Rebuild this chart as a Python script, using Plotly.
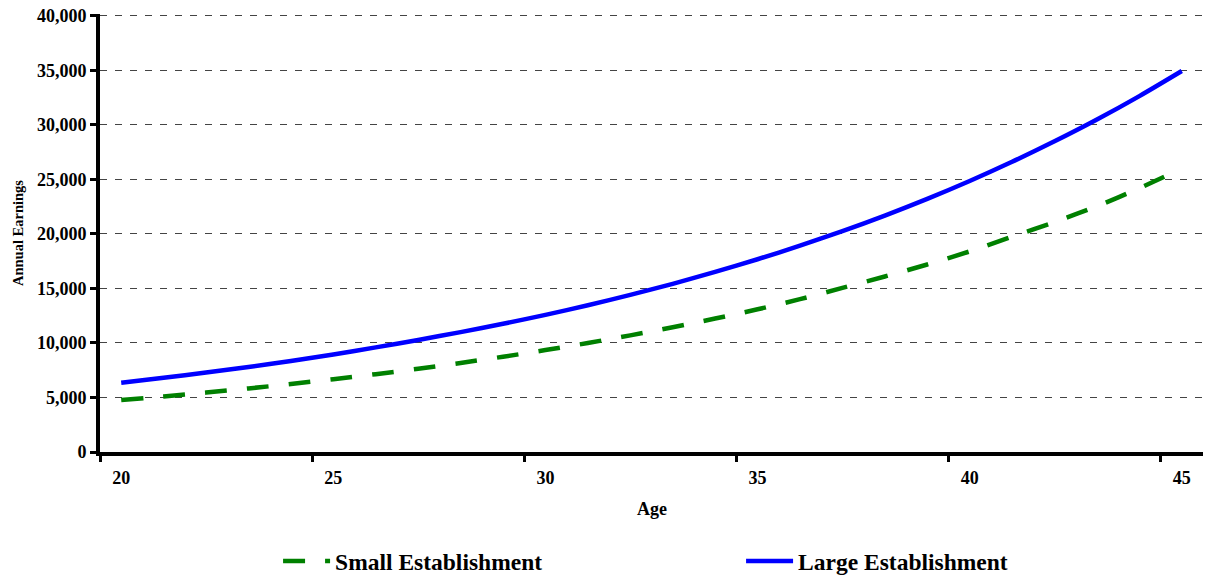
import plotly.graph_objects as go

ages = list(range(20, 46))
small_establishment = [4770, 5100, 5450, 5830, 6240, 6680, 7140, 7640, 8170, 8740,
                       9350, 10000, 10700, 11440, 12240, 13090, 14020, 15050, 16100, 17200,
                       18400, 19750, 21100, 22550, 24200, 26000]
large_establishment = [6360, 6810, 7290, 7800, 8350, 8940, 9600, 10280, 11000, 11760,
                       12580, 13460, 14410, 15430, 16520, 17680, 18930, 20260, 21690, 23220,
                       24860, 26620, 28500, 30500, 32650, 34950]
y_ticks = [0, 5000, 10000, 15000, 20000, 25000, 30000, 35000, 40000]
x_ticks = [20, 25, 30, 35, 40, 45]
x_boundaries = [19.5, 24.5, 29.5, 34.5, 39.5, 44.5]

FONT = "Liberation Serif"

fig = go.Figure()
fig.add_trace(go.Scatter(
    x=ages, y=small_establishment, mode="lines", name="Small Establishment",
    line=dict(color="#008000", width=4.5, dash="22px,20px", shape="spline", smoothing=0.8),
))
fig.add_trace(go.Scatter(
    x=ages, y=large_establishment, mode="lines", name="Large Establishment",
    line=dict(color="#0000FF", width=4.5, shape="spline", smoothing=0.8),
))

fig.update_layout(
    width=1195, height=572,
    margin=dict(l=92, r=0, t=6, b=128, autoexpand=False),
    plot_bgcolor="white", paper_bgcolor="white",
    font=dict(family=FONT, color="black"),
    showlegend=True,
    legend=dict(
        orientation="h", xref="container", yref="container",
        x=0.226, y=0.033, xanchor="left", yanchor="middle",
        font=dict(family=FONT, size=23.5, color="black", weight="bold"),
        entrywidth=401, entrywidthmode="pixels",
        itemwidth=47,
    ),
    xaxis=dict(
        range=[19.5, 45.5], automargin=False,
        tickvals=x_ticks, ticktext=[str(v) for v in x_ticks],
        ticks="", ticklabelstandoff=6,
        tickfont=dict(family=FONT, size=18, color="black", weight="bold"),
        showline=True, linecolor="black", linewidth=4,
        showgrid=False, zeroline=False,
        minor=dict(tickvals=x_boundaries, ticks="outside", ticklen=6, tickwidth=3, tickcolor="black", showgrid=False),
    ),
    yaxis=dict(
        range=[0, 40180], automargin=False,
        tickvals=y_ticks, tickformat=",d", ticklabeloverflow="allow",
        ticks="outside", ticklen=6, tickwidth=3, tickcolor="black",
        tickfont=dict(family=FONT, size=18, color="black", weight="bold"),
        showline=True, linecolor="black", linewidth=4,
        showgrid=True, gridcolor="#444444", gridwidth=1, griddash="7px,8px",
        zeroline=False,
    ),
    annotations=[
        dict(text="<b>Age</b>", xref="paper", yref="paper", x=0.5, y=-0.13,
             xanchor="center", yanchor="middle", showarrow=False,
             font=dict(family=FONT, size=18, color="black")),
        dict(text="<b>Annual Earnings</b>", xref="paper", yref="paper", x=(10 - 92) / 1103, y=0.5,
             xanchor="center", yanchor="middle", showarrow=False, textangle=-90,
             font=dict(family=FONT, size=14.5, color="black")),
    ],
)

fig.write_html("out.html")
